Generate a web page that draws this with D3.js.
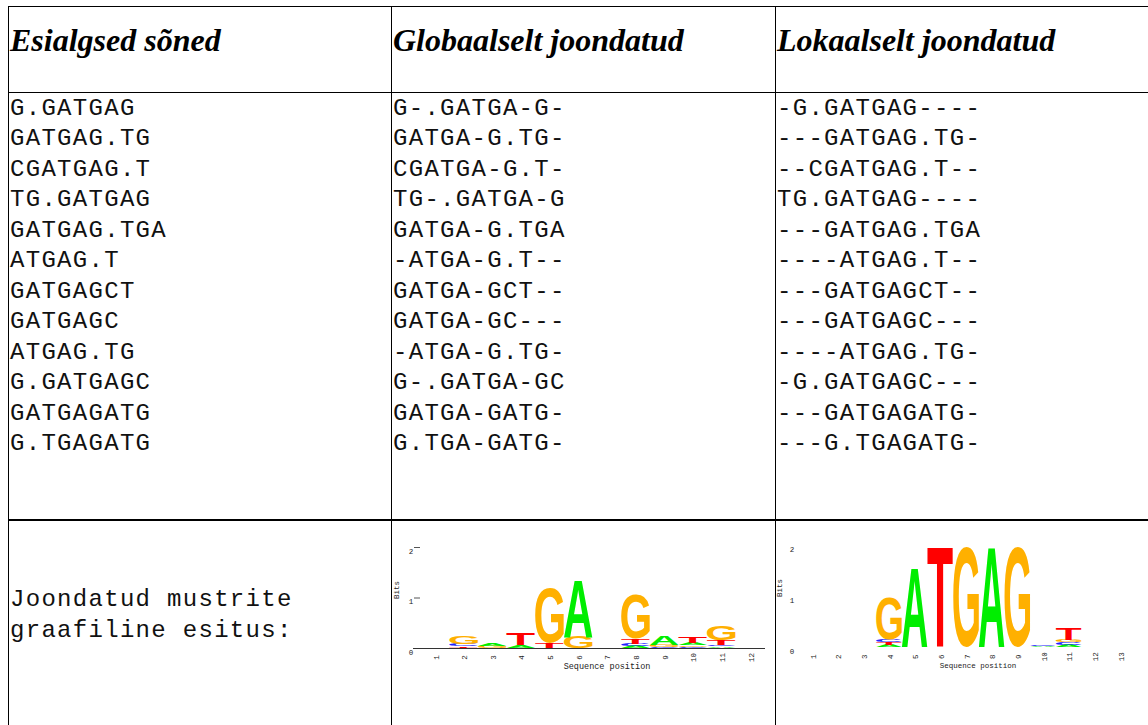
<!DOCTYPE html>
<html>
<head>
<meta charset="utf-8">
<script src="https://cdn.jsdelivr.net/npm/d3@7"></script>
<style>
  html, body { margin: 0; padding: 0; background: #fff; }
  svg { display: block; }
</style>
</head>
<body>
<svg id="chart" width="1148" height="725"></svg>
<script>
// Column headings of the table
const headers = ["Esialgsed sõned", "Globaalselt joondatud", "Lokaalselt joondatud"];

// Original words
const originalWords = [
  "G.GATGAG", "GATGAG.TG", "CGATGAG.T", "TG.GATGAG", "GATGAG.TGA", "ATGAG.T",
  "GATGAGCT", "GATGAGC", "ATGAG.TG", "G.GATGAGC", "GATGAGATG", "G.TGAGATG"
];

// Globally aligned words
const globalAligned = [
  "G-.GATGA-G-", "GATGA-G.TG-", "CGATGA-G.T-", "TG-.GATGA-G", "GATGA-G.TGA", "-ATGA-G.T--",
  "GATGA-GCT--", "GATGA-GC---", "-ATGA-G.TG-", "G-.GATGA-GC", "GATGA-GATG-", "G.TGA-GATG-"
];

// Locally aligned words
const localAligned = [
  "-G.GATGAG----", "---GATGAG.TG-", "--CGATGAG.T--", "TG.GATGAG----", "---GATGAG.TGA", "----ATGAG.T--",
  "---GATGAGCT--", "---GATGAGC---", "----ATGAG.TG-", "-G.GATGAGC---", "---GATGAGATG-", "---G.TGAGATG-"
];

// Caption of the logo row
const logoCaption = ["Joondatud mustrite", "graafiline esitus:"];

// Sequence logo of the global alignment: per position, letters bottom→top with height in bits
const globalPositions = [1, 2, 3, 4, 5, 6, 7, 8, 9, 10, 11, 12];
const globalStacks = [
  [],
  [["T", 0.035], ["C", 0.045], ["G", 0.16]],
  [["G", 0.04], ["A", 0.04]],
  [["A", 0.06], ["T", 0.22]],
  [["T", 0.10], ["G", 1.10]],
  [["G", 0.22], ["A", 1.12]],
  [],
  [["A", 0.04], ["C", 0.04], ["T", 0.11], ["G", 0.89]],
  [["C", 0.02], ["G", 0.04], ["A", 0.165]],
  [["C", 0.02], ["G", 0.03], ["A", 0.05], ["T", 0.125]],
  [["A", 0.03], ["C", 0.03], ["T", 0.10], ["G", 0.28]],
  []
];

// Sequence logo of the local alignment
const localPositions = [1, 2, 3, 4, 5, 6, 7, 8, 9, 10, 11, 12, 13];
const localStacks = [
  [], [], [],
  [["A", 0.045], ["T", 0.06], ["C", 0.04], ["G", 0.82]],
  [["A", 1.57]],
  [["T", 1.98]],
  [["G", 1.98]],
  [["A", 1.98]],
  [["G", 1.98]],
  [["A", 0.03], ["C", 0.03]],
  [["A", 0.05], ["C", 0.05], ["G", 0.04], ["T", 0.24]],
  [], []
];

const bitTicks = [0, 1, 2];

const baseColor = { A: "#00ee00", C: "#2222ff", G: "#ffb000", T: "#ff0000" };

const svg = d3.select("#chart");
const mono = "'Liberation Mono', 'DejaVu Sans Mono', monospace";

// ---- table grid ----
const grid = svg.append("g").attr("stroke", "#000").attr("fill", "none");
const colX = [8.5, 391.5, 775.5];
colX.forEach(x => grid.append("line").attr("x1", x).attr("x2", x).attr("y1", 6).attr("y2", 725));
grid.append("line").attr("x1", 8).attr("x2", 1148).attr("y1", 6.5).attr("y2", 6.5);
grid.append("line").attr("x1", 8).attr("x2", 1148).attr("y1", 92.5).attr("y2", 92.5);
grid.append("line").attr("x1", 8).attr("x2", 1148).attr("y1", 520).attr("y2", 520).attr("stroke-width", 2);

// ---- headings ----
const textX = [10, 393, 777];
svg.append("g").selectAll("text").data(headers).join("text")
  .attr("x", (d, i) => textX[i])
  .attr("y", 51)
  .attr("font-family", "'Liberation Serif', 'DejaVu Serif', serif")
  .attr("font-weight", "bold")
  .attr("font-style", "italic")
  .attr("font-size", 32)
  .attr("fill", "#000")
  .text(d => d);

// ---- word lists ----
const rowY = d3.scaleLinear().domain([0, 11]).range([115, 450]);
[originalWords, globalAligned, localAligned].forEach((list, ci) => {
  svg.append("g").selectAll("text").data(list).join("text")
    .attr("x", textX[ci])
    .attr("y", (d, i) => rowY(i))
    .attr("font-family", mono)
    .attr("font-size", 24)
    .attr("letter-spacing", 1.3)
    .attr("fill", "#111")
    .text(d => d);
});

svg.append("g").selectAll("text").data(logoCaption).join("text")
  .attr("x", 10)
  .attr("y", (d, i) => 606 + i * 30.5)
  .attr("font-family", mono)
  .attr("font-size", 24)
  .attr("letter-spacing", 1.3)
  .attr("fill", "#111")
  .text(d => d);

// ---- sequence logos ----
const glyphFont = "bold 100px 'Liberation Sans', Arial, sans-serif";
const ctx = document.createElement("canvas").getContext("2d");
ctx.font = glyphFont;
const ink = {};
["A", "C", "G", "T"].forEach(b => {
  const m = ctx.measureText(b);
  ink[b] = {
    left: m.actualBoundingBoxLeft, right: m.actualBoundingBoxRight,
    ascent: m.actualBoundingBoxAscent, descent: m.actualBoundingBoxDescent
  };
});

function drawLogo(cfg) {
  const g = svg.append("g");
  const x = d3.scaleLinear().domain([cfg.positions[0], cfg.positions[cfg.positions.length - 1]])
    .range([cfg.firstX, cfg.lastX]);
  const y = d3.scaleLinear().domain([0, 2]).range([cfg.baseY, cfg.baseY - 2 * cfg.pxPerBit]);
  const colW = (cfg.lastX - cfg.firstX) / (cfg.positions.length - 1);

  // stacked letters
  cfg.stacks.forEach((stack, i) => {
    let acc = 0;
    const cx = x(cfg.positions[i]) + cfg.letterShift;
    stack.forEach(([b, bits]) => {
      const y0 = y(acc + bits), y1 = y(acc);
      acc += bits;
      const h = y1 - y0;
      if (h <= 0) return;
      const m = ink[b];
      const w = colW * cfg.letterFrac;
      const sx = w / (m.left + m.right), sy = h / (m.ascent + m.descent);
      g.append("text")
        .attr("transform", `translate(${cx - w / 2},${y0}) scale(${sx},${sy}) translate(${m.left},${m.ascent})`)
        .attr("font-family", "'Liberation Sans', Arial, sans-serif")
        .attr("font-weight", "bold")
        .attr("font-size", 100)
        .attr("fill", baseColor[b])
        .text(b);
    });
  });

  // x axis line
  if (cfg.axisLine) {
    g.append("line").attr("x1", cfg.axisStart).attr("x2", cfg.axisEnd)
      .attr("y1", cfg.baseY + 0.5).attr("y2", cfg.baseY + 0.5)
      .attr("stroke", "#333").attr("stroke-width", 1);
  }

  // bit ticks
  bitTicks.forEach(t => {
    g.append("text")
      .attr("x", cfg.yLabelX).attr("y", y(t) + 6.5)
      .attr("text-anchor", "middle")
      .attr("font-family", mono).attr("font-size", 7.5).attr("fill", "#222")
      .text(t);
    if (cfg.tickMarks && t > 0) {
      g.append("line").attr("x1", cfg.yLabelX + 3).attr("x2", cfg.yLabelX + 9)
        .attr("y1", y(t) + 0.5).attr("y2", y(t) + 0.5)
        .attr("stroke", "#555").attr("stroke-width", 1);
    }
  });

  // position labels
  g.selectAll("text.pos").data(cfg.positions).join("text")
    .attr("class", "pos")
    .attr("transform", d => `translate(${x(d) + 2.5},${cfg.baseY + 9.5}) rotate(-90)`)
    .attr("text-anchor", "middle")
    .attr("font-family", mono).attr("font-size", 7.5).attr("fill", "#222")
    .text(d => d);

  // axis titles
  g.append("text")
    .attr("x", cfg.titleX).attr("y", cfg.baseY + 21)
    .attr("text-anchor", "middle")
    .attr("font-family", mono).attr("font-size", cfg.titleSize).attr("fill", "#222")
    .text("Sequence position");
  g.append("text")
    .attr("transform", `translate(${cfg.bitsX},${cfg.bitsY}) rotate(-90)`)
    .attr("text-anchor", "middle")
    .attr("font-family", mono).attr("font-size", 7.5).attr("fill", "#222")
    .text("Bits");
}

drawLogo({
  positions: globalPositions, stacks: globalStacks,
  firstX: 436, lastX: 751, letterShift: -1, letterFrac: 1.0,
  baseY: 648, pxPerBit: 50.5,
  axisLine: true, axisStart: 413, axisEnd: 765, tickMarks: true,
  yLabelX: 411, titleX: 607, titleSize: 8.5, bitsX: 399, bitsY: 590
});

drawLogo({
  positions: localPositions, stacks: localStacks,
  firstX: 813, lastX: 1121, letterShift: -1, letterFrac: 1.0,
  baseY: 647.3, pxPerBit: 50.8,
  axisLine: false, tickMarks: false,
  yLabelX: 792, titleX: 978, titleSize: 7.5, bitsX: 782, bitsY: 588
});
</script>
</body>
</html>
